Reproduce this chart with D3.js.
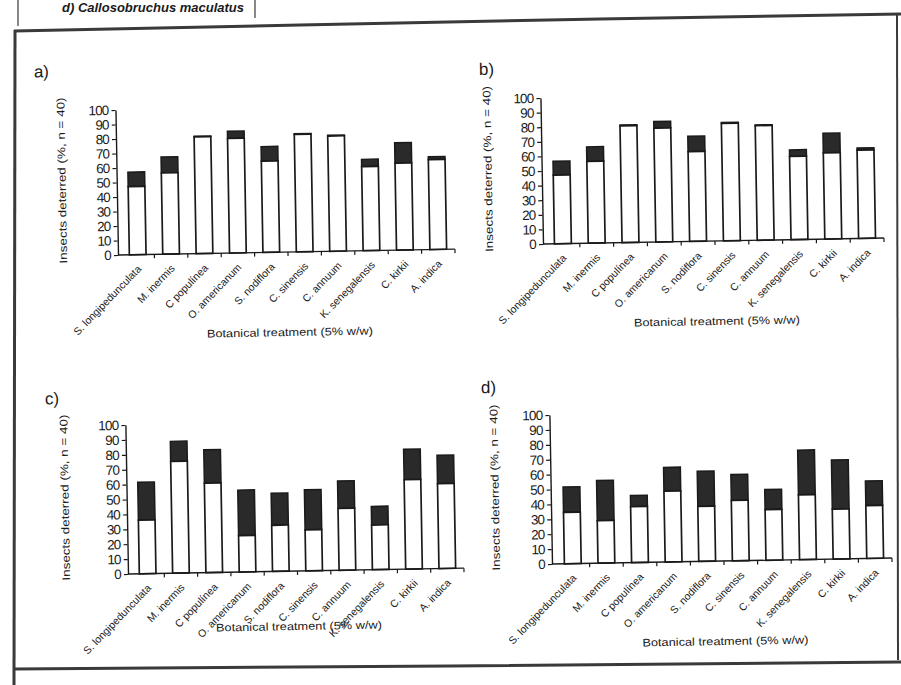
<!DOCTYPE html>
<html>
<head>
<meta charset="utf-8">
<script src="https://cdn.jsdelivr.net/npm/d3@7"></script>
<style>
  html, body { margin: 0; padding: 0; background: #ffffff; }
  svg { display: block; }
  text { font-family: "Liberation Sans Narrow", "Liberation Sans", Arial, sans-serif; fill: #1a1a1a; }
</style>
</head>
<body>
<svg id="chart" width="901" height="685"></svg>
<script>
// ---------------- DATA ----------------
const categories = [
  "S. longipedunculata", "M. inermis", "C popul\u00ednea", "O. americanum", "S. nodiflora",
  "C. sinensis", "C. annuum", "K. senegalensis", "C. kirkii", "A. indica"
];
const yTicks = [0, 10, 20, 30, 40, 50, 60, 70, 80, 90, 100];

// lower (white) and upper (dark) segments, % insects deterred
const lowerA = [47, 56, 80.5, 79, 63, 81, 79.5, 58, 60, 62];
const upperA = [10, 11, 0.5, 5, 10, 0.5, 0.5, 5, 14, 2];

const lowerB = [47, 56, 80, 78, 61.5, 80.5, 78.5, 57, 59, 60.5];
const upperB = [9.5, 10, 0.5, 4.5, 10.5, 0.5, 0.5, 4.5, 13.5, 1.5];

const lowerC = [36, 75, 60, 24.5, 31, 27.5, 41.5, 30, 60, 57];
const upperC = [25.5, 13.5, 22.5, 30.5, 21.5, 27, 18.5, 12.5, 20.5, 19];

const lowerD = [34.5, 28.5, 37.5, 47.5, 37, 40.5, 34, 43.5, 33.5, 35.5];
const upperD = [17, 27, 7.5, 16, 23.5, 17.5, 13.5, 30, 33, 16.5];

const panelLabels = ["a)", "b)", "c)", "d)"];
const yTitle = "Insects deterred (%, n = 40)";
const xTitle = "Botanical treatment (5% w/w)";
const header = "d) Callosobruchus maculatus";

// ---------------- LAYOUT ----------------
const svg = d3.select("#chart");

// scanned frame
const frame = svg.append("g").attr("stroke", "#3a3a3a").attr("fill", "none");
frame.append("line").attr("x1", 18).attr("y1", 0).attr("x2", 18).attr("y2", 26).attr("stroke-width", 1.2);
frame.append("line").attr("x1", 255).attr("y1", 0).attr("x2", 255).attr("y2", 18).attr("stroke-width", 1.2);
frame.append("path").attr("d", "M14,31 L300,25 L600,19 L901,14").attr("stroke-width", 3);
frame.append("line").attr("x1", 15).attr("y1", 30).attr("x2", 14).attr("y2", 685).attr("stroke-width", 3);
frame.append("line").attr("x1", 897).attr("y1", 14).attr("x2", 898).attr("y2", 660).attr("stroke-width", 2);
frame.append("path").attr("d", "M14,669 L450,666 L901,662").attr("stroke-width", 3);

svg.append("text").attr("x", 62).attr("y", 12)
  .attr("font-size", 13).attr("font-weight", "bold").attr("font-style", "italic")
  .attr("font-family", "Liberation Sans, Arial, sans-serif")
  .text(header);

const panels = [
  { label: panelLabels[0], lower: lowerA, upper: upperA, ox: 118, oy: 255, h: 145, x0: 121, x1: 455, lx: 37, ly: 76, tx: 67, ty: 339 },
  { label: panelLabels[1], lower: lowerB, upper: upperB, ox: 543, oy: 244, h: 146, x0: 546, x1: 884, lx: 482, ly: 74, tx: 493, ty: 328 },
  { label: panelLabels[2], lower: lowerC, upper: upperC, ox: 128, oy: 574, h: 149, x0: 131, x1: 464, lx: 48, ly: 403, tx: 70, ty: 633 },
  { label: panelLabels[3], lower: lowerD, upper: upperD, ox: 552, oy: 564, h: 149, x0: 556, x1: 892, lx: 484, ly: 392, tx: 500, ty: 648 }
];

panels.forEach(p => {
  const g = svg.append("g").attr("transform", `rotate(-1, ${p.ox}, ${p.oy})`);

  const x = d3.scaleBand().domain(categories).range([p.x0, p.x1]).paddingInner(0.5).paddingOuter(0.25);
  const y = d3.scaleLinear().domain([0, 100]).range([p.oy, p.oy - p.h]);

  // panel label
  g.append("text").attr("x", p.lx).attr("y", p.ly).attr("font-size", 17)
    .attr("font-family", "Liberation Sans, Arial, sans-serif").text(p.label);

  // bars
  const rows = categories.map((c, i) => ({ c, lo: p.lower[i], up: p.upper[i] }));
  const bars = g.append("g");
  bars.selectAll("rect.up").data(rows).join("rect")
    .attr("x", d => x(d.c)).attr("width", x.bandwidth())
    .attr("y", d => y(d.lo + d.up)).attr("height", d => y(d.lo) - y(d.lo + d.up))
    .attr("fill", "#2a2a2a").attr("stroke", "#1a1a1a").attr("stroke-width", 1.5);
  bars.selectAll("rect.lo").data(rows).join("rect")
    .attr("x", d => x(d.c)).attr("width", x.bandwidth())
    .attr("y", d => y(d.lo)).attr("height", d => y(0) - y(d.lo))
    .attr("fill", "#ffffff").attr("stroke", "#1a1a1a").attr("stroke-width", 1.7);

  // y axis
  const ya = g.append("g").attr("transform", `translate(${p.ox},0)`)
    .call(d3.axisLeft(y).tickValues(yTicks).tickSize(4).tickSizeOuter(0).tickPadding(3));
  ya.select(".domain").attr("stroke", "#1a1a1a").attr("stroke-width", 1.4);
  ya.selectAll(".tick line").attr("stroke", "#1a1a1a").attr("stroke-width", 1.2);
  ya.selectAll(".tick text").attr("font-size", 13.5).attr("fill", "#1a1a1a")
    .attr("font-family", "Liberation Sans, Arial, sans-serif").attr("letter-spacing", "-0.8px");

  // x axis line (labels centred on bands)
  const xa = g.append("g").attr("transform", `translate(0,${p.oy})`)
    .call(d3.axisBottom(x).tickSize(0).tickSizeOuter(0).tickPadding(0));
  xa.select(".domain").attr("d", `M${p.ox},0H${p.x1}`).attr("stroke", "#1a1a1a").attr("stroke-width", 1.4);
  xa.selectAll(".tick text")
    .attr("font-size", 10.5).attr("fill", "#1a1a1a")
    .attr("text-anchor", "end").attr("dy", 0)
    .attr("transform", "translate(4,15) rotate(-45)");

  // boundary ticks between categories
  const step = x.step();
  g.append("g").selectAll("line").data(categories).join("line")
    .attr("x1", c => x(c) + x.bandwidth() / 2 + step / 2)
    .attr("x2", c => x(c) + x.bandwidth() / 2 + step / 2)
    .attr("y1", p.oy).attr("y2", p.oy + 4)
    .attr("stroke", "#1a1a1a").attr("stroke-width", 1.2);

  // axis titles
  g.append("text")
    .attr("transform", `translate(${p.tx},${p.oy - p.h / 2 - 3}) rotate(-90)`)
    .attr("text-anchor", "middle").attr("font-size", 11)
    .attr("textLength", 166).attr("lengthAdjust", "spacingAndGlyphs")
    .text(yTitle);
  g.append("text")
    .attr("x", (p.ox + p.x1) / 2 + 2).attr("y", p.ty)
    .attr("text-anchor", "middle").attr("font-size", 11)
    .attr("textLength", 166).attr("lengthAdjust", "spacingAndGlyphs")
    .text(xTitle);
});
</script>
</body>
</html>
